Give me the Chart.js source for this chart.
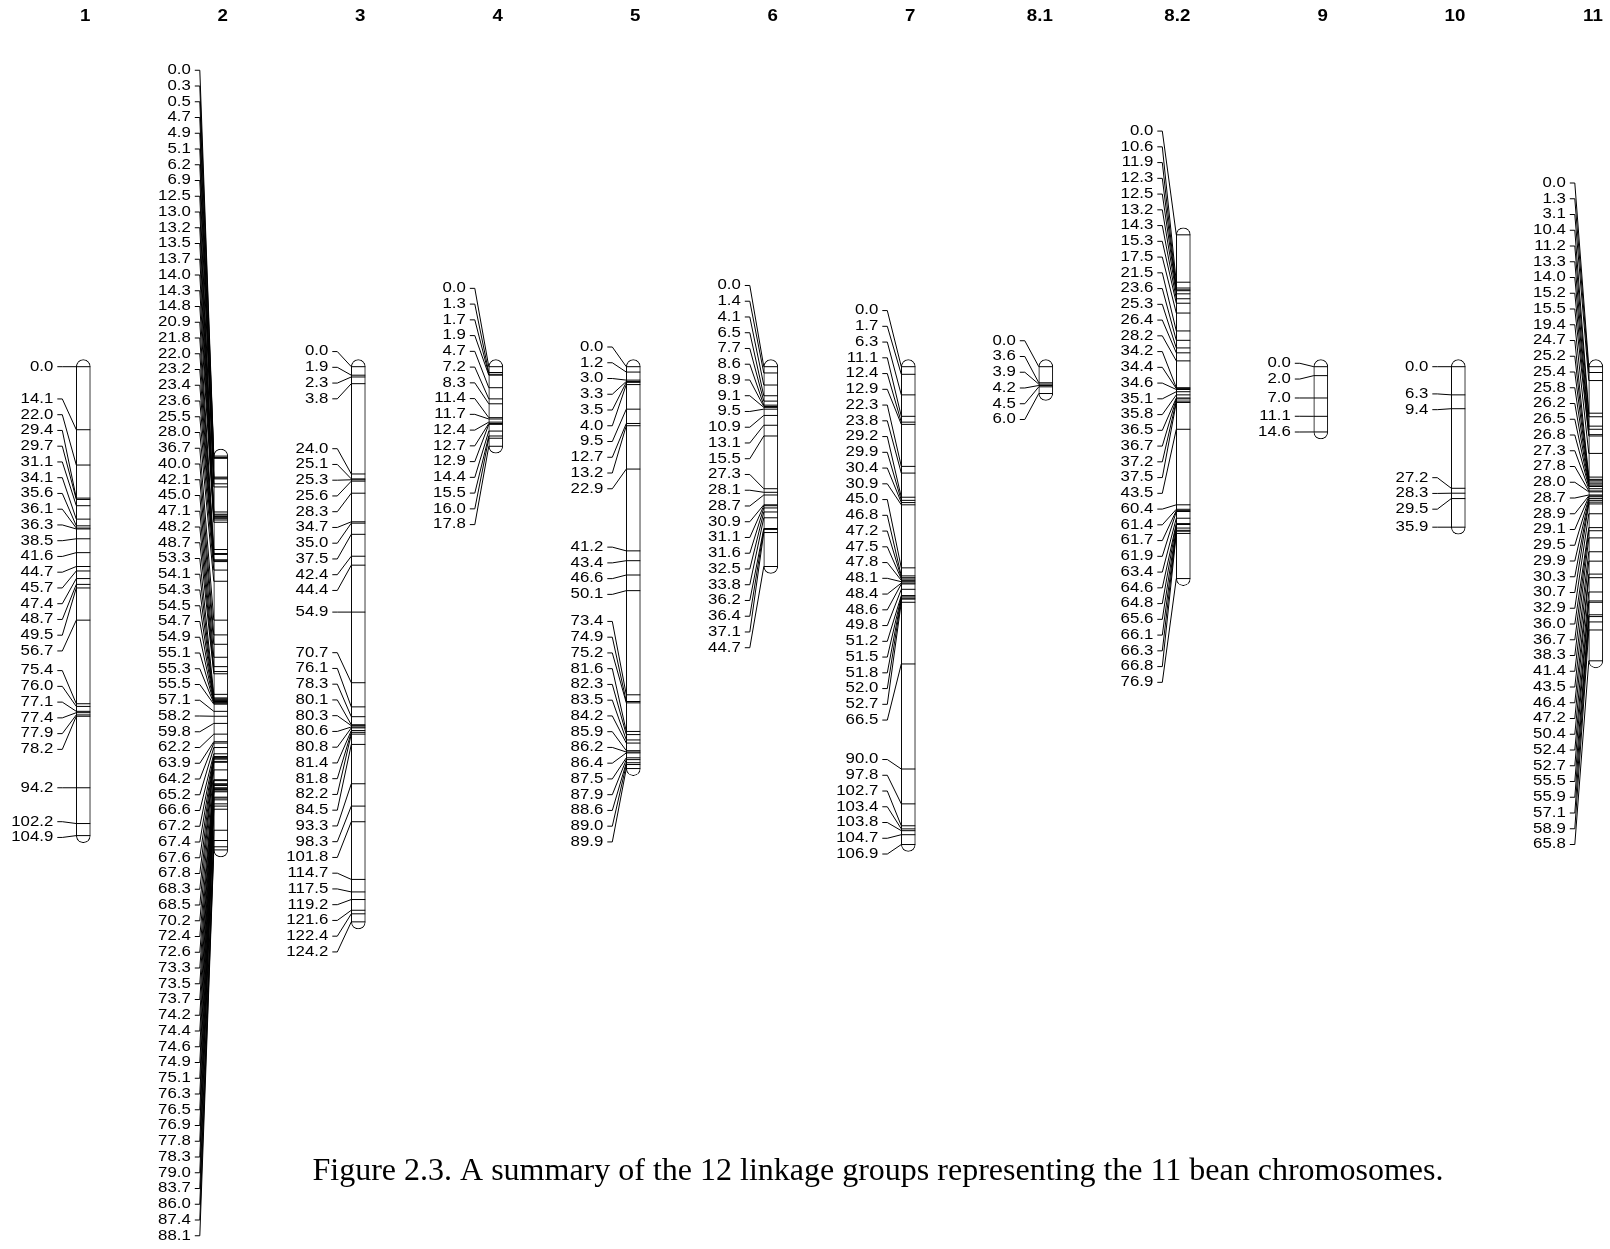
<!DOCTYPE html>
<html>
<head>
<meta charset="utf-8">
<title>Bean linkage map</title>
<script src="https://cdn.jsdelivr.net/npm/chart.js@4.4.1/dist/chart.umd.min.js"></script>
<style>
  html, body { margin: 0; padding: 0; background: #ffffff; overflow: hidden; }
  #wrap { width: 1610px; height: 1249px; position: relative; }
</style>
</head>
<body>
<div id="wrap"><canvas id="map" width="1610" height="1249"></canvas></div>
<script>
// ---- Linkage group names and marker positions (cM) ----
const groupNames = ['1', '2', '3', '4', '5', '6', '7', '8.1', '8.2', '9', '10', '11'];

const lg1 = [0.0, 14.1, 22.0, 29.4, 29.7, 31.1, 34.1, 35.6, 36.1, 36.3, 38.5, 41.6, 44.7, 45.7,
  47.4, 48.7, 49.5, 56.7, 75.4, 76.0, 77.1, 77.4, 77.9, 78.2, 94.2, 102.2, 104.9];
const lg2 = [0.0, 0.3, 0.5, 4.7, 4.9, 5.1, 6.2, 6.9, 12.5, 13.0, 13.2, 13.5, 13.7, 14.0, 14.3, 14.8,
  20.9, 21.8, 22.0, 23.2, 23.4, 23.6, 25.5, 28.0, 36.7, 40.0, 42.1, 45.0, 47.1, 48.2, 48.7, 53.3,
  54.1, 54.3, 54.5, 54.7, 54.9, 55.1, 55.3, 55.5, 57.1, 58.2, 59.8, 62.2, 63.9, 64.2, 65.2, 66.6,
  67.2, 67.4, 67.6, 67.8, 68.3, 68.5, 70.2, 72.4, 72.6, 73.3, 73.5, 73.7, 74.2, 74.4, 74.6, 74.9,
  75.1, 76.3, 76.5, 76.9, 77.8, 78.3, 79.0, 83.7, 86.0, 87.4, 88.1];
const lg3 = [0.0, 1.9, 2.3, 3.8, 24.0, 25.1, 25.3, 25.6, 28.3, 34.7, 35.0, 37.5, 42.4, 44.4, 54.9,
  70.7, 76.1, 78.3, 80.1, 80.3, 80.6, 80.8, 81.4, 81.8, 82.2, 84.5, 93.3, 98.3, 101.8, 114.7,
  117.5, 119.2, 121.6, 122.4, 124.2];
const lg4 = [0.0, 1.3, 1.7, 1.9, 4.7, 7.2, 8.3, 11.4, 11.7, 12.4, 12.7, 12.9, 14.4, 15.5, 16.0, 17.8];
const lg5 = [0.0, 1.2, 3.0, 3.3, 3.5, 4.0, 9.5, 12.7, 13.2, 22.9, 41.2, 43.4, 46.6, 50.1, 73.4,
  74.9, 75.2, 81.6, 82.3, 83.5, 84.2, 85.9, 86.2, 86.4, 87.5, 87.9, 88.6, 89.0, 89.9];
const lg6 = [0.0, 1.4, 4.1, 6.5, 7.7, 8.6, 8.9, 9.1, 9.5, 10.9, 13.1, 15.5, 27.3, 28.1, 28.7, 30.9,
  31.1, 31.6, 32.5, 33.8, 36.2, 36.4, 37.1, 44.7];
const lg7 = [0.0, 1.7, 6.3, 11.1, 12.4, 12.9, 22.3, 23.8, 29.2, 29.9, 30.4, 30.9, 45.0, 46.8, 47.2,
  47.5, 47.8, 48.1, 48.4, 48.6, 49.8, 51.2, 51.5, 51.8, 52.0, 52.7, 66.5, 90.0, 97.8, 102.7,
  103.4, 103.8, 104.7, 106.9];
const lg8_1 = [0.0, 3.6, 3.9, 4.2, 4.5, 6.0];
const lg8_2 = [0.0, 10.6, 11.9, 12.3, 12.5, 13.2, 14.3, 15.3, 17.5, 21.5, 23.6, 25.3, 26.4, 28.2,
  34.2, 34.4, 34.6, 35.1, 35.8, 36.5, 36.7, 37.2, 37.5, 43.5, 60.4, 61.4, 61.7, 61.9, 63.4, 64.6,
  64.8, 65.6, 66.1, 66.3, 66.8, 76.9];
const lg9 = [0.0, 2.0, 7.0, 11.1, 14.6];
const lg10 = [0.0, 6.3, 9.4, 27.2, 28.3, 29.5, 35.9];
const lg11 = [0.0, 1.3, 3.1, 10.4, 11.2, 13.3, 14.0, 15.2, 15.5, 19.4, 24.7, 25.2, 25.4, 25.8, 26.2,
  26.5, 26.8, 27.3, 27.8, 28.0, 28.7, 28.9, 29.1, 29.5, 29.9, 30.3, 30.7, 32.9, 36.0, 36.7, 38.3,
  41.4, 43.5, 46.4, 47.2, 50.4, 52.4, 52.7, 55.5, 55.9, 57.1, 58.9, 65.8];

const linkageGroups = [lg1, lg2, lg3, lg4, lg5, lg6, lg7, lg8_1, lg8_2, lg9, lg10, lg11];

const captionText = 'Figure 2.3. A summary of the 12 linkage groups representing the 11 bean chromosomes.';

// ---- Page layout ----
const W = 1610, H = 1249;
const COL_FIRST = 83.3;      // px centre of the first group
const COL_STEP = 137.5;      // px between group centres
const TOP_PX = 366.7;        // px of 0 cM for an unshifted group
const PX_PER_CM = 4.47;
const verticalShift = [0, 20.0, 0, 0, 0, 0, 0, 0, -29.5, 0, 0, 0]; // cM each group is moved down
const BAR_W = 14;
const CAP_PX = 7;
const LABEL_GAP = 15.75;
const MERGE_SLACK = 1.0;     // px of extra clearance required between label runs
const LABEL_FONT = '14px Arial, "Liberation Sans", sans-serif';
const LABEL_STRETCH = 1.2;

// Chromosome bodies as floating bars (caps extend past the end markers)
const capCM = CAP_PX / PX_PER_CM;
const bodyData = linkageGroups.map((g, i) => ({
  x: i,
  y: [verticalShift[i] - capCM, verticalShift[i] + g[g.length - 1] + capCM]
}));

// Marker ticks across each chromosome
const markerData = [];
linkageGroups.forEach((g, i) => g.forEach(v => markerData.push({ x: i, y: verticalShift[i] + v })));

// Spread labels apart: overlapping runs are centred on the middle of their span
function spreadLabels(ideal, gap) {
  const groups = ideal.map((_, i) => ({ first: i, last: i, top: 0 }));
  const place = g => {
    const mid = (ideal[g.first] + ideal[g.last]) / 2;
    g.top = mid - (g.last - g.first) * gap / 2;
  };
  groups.forEach(place);
  let changed = true;
  while (changed) {
    changed = false;
    for (let k = 0; k < groups.length - 1; k++) {
      const a = groups[k], b = groups[k + 1];
      const aBottom = a.top + (a.last - a.first) * gap;
      if (b.top - aBottom < gap + MERGE_SLACK) {
        a.last = b.last;
        place(a);
        groups.splice(k + 1, 1);
        changed = true;
        break;
      }
    }
  }
  const out = [];
  groups.forEach(g => { for (let i = g.first; i <= g.last; i++) out[i] = g.top + (i - g.first) * gap; });
  return out;
}

function stretchedText(ctx, text, x, y, sx, align) {
  ctx.save();
  ctx.translate(x, y);
  ctx.scale(sx, 1);
  ctx.textAlign = align;
  ctx.fillText(text, 0, 0);
  ctx.restore();
}

const labelPlugin = {
  id: 'markerLabels',
  afterDatasetsDraw(chart) {
    const { ctx, scales: { x, y } } = chart;
    ctx.save();
    ctx.strokeStyle = '#000';
    ctx.fillStyle = '#000';
    ctx.lineWidth = 1;
    ctx.textBaseline = 'middle';

    linkageGroups.forEach((g, i) => {
      const cx = x.getPixelForValue(i);
      const ideal = g.map(v => y.getPixelForValue(verticalShift[i] + v));
      const placed = spreadLabels(ideal, LABEL_GAP);
      ctx.font = LABEL_FONT;
      g.forEach((v, k) => {
        const ly = placed[k];
        stretchedText(ctx, v.toFixed(1), cx - 30, ly, LABEL_STRETCH, 'right');
        ctx.beginPath();
        ctx.moveTo(cx - 26, ly);
        ctx.lineTo(cx - 21, ly);
        ctx.lineTo(cx - BAR_W / 2, ideal[k]);
        ctx.stroke();
      });
      // group heading, right-aligned just past the bar centre
      ctx.font = 'bold 17px Arial, "Liberation Sans", sans-serif';
      stretchedText(ctx, groupNames[i], cx + 7, 16, 1.1, 'right');
    });

    ctx.font = '32px "Liberation Serif", "Times New Roman", serif';
    ctx.textAlign = 'center';
    ctx.fillText(captionText, 878, 1172);
    ctx.restore();
  }
};

new Chart(document.getElementById('map'), {
  type: 'bar',
  data: {
    datasets: [
      {
        type: 'scatter',
        data: markerData,
        pointStyle: 'line',
        pointRadius: BAR_W / 2,
        pointHoverRadius: BAR_W / 2,
        borderColor: '#000',
        backgroundColor: '#000',
        borderWidth: 1,
        clip: false,
        order: 1
      },
      {
        type: 'bar',
        data: bodyData,
        backgroundColor: '#ffffff',
        borderColor: '#000',
        borderWidth: 1,
        borderSkipped: false,
        borderRadius: BAR_W / 2,
        barThickness: BAR_W,
        clip: false,
        order: 2
      }
    ]
  },
  options: {
    responsive: false,
    devicePixelRatio: 1,
    animation: false,
    events: [],
    layout: { padding: 0, autoPadding: false },
    plugins: { legend: { display: false }, tooltip: { enabled: false }, title: { display: false } },
    scales: {
      x: {
        type: 'linear',
        display: false,
        offset: false,
        grid: { offset: false },
        min: -COL_FIRST / COL_STEP,
        max: (W - COL_FIRST) / COL_STEP
      },
      y: {
        type: 'linear',
        display: false,
        reverse: true,
        min: -TOP_PX / PX_PER_CM,
        max: (H - TOP_PX) / PX_PER_CM
      }
    }
  },
  plugins: [labelPlugin]
});
</script>
</body>
</html>
